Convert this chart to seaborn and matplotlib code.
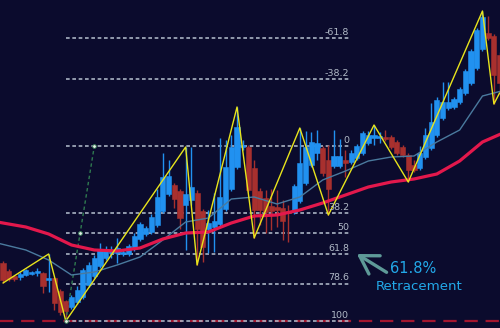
import numpy as np
import pandas as pd
import matplotlib
matplotlib.use("Agg")
import matplotlib.pyplot as plt
import seaborn as sns

# ---------------- data ----------------
opens = [1.1058, 1.1050, 1.1045, 1.1044, 1.1046, 1.1047, 1.1048, 1.1048, 1.1041, 1.1043,
         1.1030, 1.1020, 1.1014, 1.1019, 1.1024, 1.1036, 1.1045, 1.1055, 1.1063, 1.1068,
         1.1068, 1.1067, 1.1067, 1.1072, 1.1082, 1.1087, 1.1089, 1.1096, 1.1110, 1.1127,
         1.1136, 1.1130, 1.1116, 1.1121, 1.1128, 1.1110, 1.1092, 1.1094, 1.1097, 1.1112,
         1.1132, 1.1154, 1.1174, 1.1174, 1.1153, 1.1130, 1.1123, 1.1115, 1.1114, 1.1113,
         1.1109, 1.1109, 1.1120, 1.1138, 1.1156, 1.1168, 1.1173, 1.1161, 1.1155, 1.1155,
         1.1161, 1.1159, 1.1163, 1.1168, 1.1178, 1.1183, 1.1183, 1.1184, 1.1184, 1.1179,
         1.1174, 1.1166, 1.1156, 1.1153, 1.1164, 1.1173, 1.1186, 1.1203, 1.1213, 1.1214,
         1.1219, 1.1228, 1.1238, 1.1253, 1.1272, 1.1288, 1.1285, 1.1266]
closes = [1.1041, 1.1042, 1.1042, 1.1047, 1.1051, 1.1049, 1.1050, 1.1035, 1.1043, 1.1018,
          1.1009, 1.1010, 1.1024, 1.1031, 1.1051, 1.1056, 1.1063, 1.1071, 1.1072, 1.1070,
          1.1073, 1.1069, 1.1075, 1.1085, 1.1097, 1.1093, 1.1104, 1.1124, 1.1144, 1.1145,
          1.1122, 1.1103, 1.1127, 1.1134, 1.1092, 1.1074, 1.1098, 1.1100, 1.1124, 1.1154,
          1.1174, 1.1194, 1.1176, 1.1131, 1.1111, 1.1111, 1.1109, 1.1110, 1.1111, 1.1100,
          1.1108, 1.1135, 1.1158, 1.1174, 1.1179, 1.1178, 1.1148, 1.1132, 1.1165, 1.1165,
          1.1158, 1.1168, 1.1175, 1.1188, 1.1186, 1.1186, 1.1185, 1.1182, 1.1174, 1.1168,
          1.1166, 1.1151, 1.1151, 1.1168, 1.1186, 1.1199, 1.1221, 1.1219, 1.1219, 1.1222,
          1.1232, 1.1250, 1.1270, 1.1291, 1.1304, 1.1283, 1.1246, 1.1238]
highs = [1.1060, 1.1052, 1.1046, 1.1049, 1.1052, 1.1050, 1.1053, 1.1049, 1.1067, 1.1044,
         1.1032, 1.1021, 1.1026, 1.1035, 1.1053, 1.1059, 1.1066, 1.1078, 1.1075, 1.1075,
         1.1083, 1.1072, 1.1077, 1.1088, 1.1099, 1.1095, 1.1107, 1.1132, 1.1168, 1.1161,
         1.1138, 1.1132, 1.1174, 1.1174, 1.1131, 1.1112, 1.1111, 1.1128, 1.1183, 1.1181,
         1.1186, 1.1214, 1.1181, 1.1176, 1.1161, 1.1133, 1.1131, 1.1132, 1.1131, 1.1121,
         1.1116, 1.1137, 1.1193, 1.1190, 1.1189, 1.1191, 1.1175, 1.1176, 1.1191, 1.1182,
         1.1171, 1.1171, 1.1177, 1.1190, 1.1190, 1.1196, 1.1189, 1.1191, 1.1186, 1.1181,
         1.1176, 1.1168, 1.1161, 1.1175, 1.1193, 1.1218, 1.1224, 1.1239, 1.1239, 1.1224,
         1.1234, 1.1252, 1.1272, 1.1293, 1.1310, 1.1305, 1.1287, 1.1269]
lows = [1.1038, 1.1040, 1.1040, 1.1041, 1.1045, 1.1046, 1.1045, 1.1028, 1.1029, 1.1011,
        1.1006, 1.1000, 1.1012, 1.1017, 1.1022, 1.1034, 1.1043, 1.1053, 1.1061, 1.1063,
        1.1058, 1.1065, 1.1065, 1.1070, 1.1080, 1.1085, 1.1087, 1.1094, 1.1108, 1.1125,
        1.1113, 1.1092, 1.1071, 1.1116, 1.1056, 1.1059, 1.1068, 1.1069, 1.1095, 1.1110,
        1.1130, 1.1152, 1.1171, 1.1129, 1.1083, 1.1096, 1.1088, 1.1091, 1.1094, 1.1081,
        1.1079, 1.1107, 1.1118, 1.1136, 1.1154, 1.1161, 1.1145, 1.1106, 1.1153, 1.1153,
        1.1144, 1.1157, 1.1161, 1.1166, 1.1176, 1.1176, 1.1178, 1.1180, 1.1172, 1.1166,
        1.1164, 1.1139, 1.1149, 1.1151, 1.1162, 1.1171, 1.1184, 1.1201, 1.1211, 1.1212,
        1.1217, 1.1226, 1.1236, 1.1251, 1.1270, 1.1281, 1.1217, 1.1226]

ma_idx = [-1, 4, 8, 12, 16, 20, 24, 28, 32, 36, 40, 44, 48, 52, 56, 60, 64, 68, 72, 76, 80, 84, 88]
ma_slow = [1.1099, 1.1094, 1.1087, 1.1076, 1.1071, 1.1070, 1.1073, 1.1082, 1.1088, 1.1089,
           1.1098, 1.1105, 1.1106, 1.1111, 1.1118, 1.1126, 1.1134, 1.1139, 1.1142, 1.1147,
           1.1160, 1.1179, 1.1189]
ma_fast = [1.1078, 1.1071, 1.1061, 1.1046, 1.1049, 1.1056, 1.1064, 1.1081, 1.1099, 1.1103,
           1.1122, 1.1124, 1.1117, 1.1124, 1.1141, 1.1150, 1.1160, 1.1164, 1.1165, 1.1179,
           1.1191, 1.1225, 1.1231]

zz_idx = [0, 8, 11, 32, 34, 41, 44, 52, 57, 65, 71, 84, 86, 87]
zz_val = [1.1038, 1.1067, 1.1000, 1.1174, 1.1056, 1.1214, 1.1083, 1.1193, 1.1106, 1.1196,
          1.1139, 1.1310, 1.1217, 1.1228]

fib_levels = [-61.8, -38.2, 0, 38.2, 50, 61.8, 78.6, 100]
fib_labels = ["-61.8", "-38.2", "0", "38.2", "50", "61.8", "78.6", "100"]
swing_low, swing_high = 1.1000, 1.1175
swing_low_idx, swing_high_idx = 11, 16
fib_end_idx = 60.8

# ---------------- style ----------------
BG = "#0b0b2d"
BLUE = "#2191f0"
RED = "#a8302e"
sns.set_style("dark", {"axes.facecolor": BG, "figure.facecolor": BG})
plt.rcParams['font.family'] = ['DejaVu Sans']

fig = plt.figure(figsize=(5, 3.28), dpi=100)
ax = fig.add_axes([0, 0, 1, 1])
ax.set_facecolor(BG)

n = len(opens)
df = pd.DataFrame({"i": np.arange(n), "o": opens, "c": closes, "h": highs, "l": lows})
up = df["c"] >= df["o"]
colors = np.where(up, BLUE, RED)

# wicks
ax.vlines(df["i"], df["l"], df["h"], colors=colors, lw=1.0, zorder=3)
# bodies
bottom = np.minimum(df["o"], df["c"])
height = np.maximum(np.abs(df["c"] - df["o"]), 0.00015)
ax.bar(df["i"], height, bottom=bottom, width=0.9, color=colors, edgecolor=colors,
       linewidth=0.4, zorder=4)

# moving averages
ma = pd.DataFrame({"i": ma_idx, "slow": ma_slow, "fast": ma_fast})
sns.lineplot(data=ma, x="i", y="fast", ax=ax, color="#4a7a9e", lw=1.0, zorder=5)
sns.lineplot(data=ma, x="i", y="slow", ax=ax, color="#e3184c", lw=2.3, zorder=5)

# zigzag
zz = pd.DataFrame({"i": zz_idx, "v": zz_val})
sns.lineplot(data=zz, x="i", y="v", ax=ax, color="#e8e41c", lw=1.0, sort=False, zorder=6)

# swing-low red dashed line across
ax.axhline(swing_low, color="#a3172f", lw=1.6, ls=(0, (6, 3.5)), zorder=2)

# fib levels
rng = swing_high - swing_low
for lev, lab in zip(fib_levels, fib_labels):
    price = swing_high - lev / 100.0 * rng
    ax.plot([swing_low_idx, fib_end_idx], [price, price], color="#a9b3c2",
            lw=1.2, ls=(0, (2.2, 1.6)), zorder=2.5)
    ax.annotate(lab, (fib_end_idx, price), xytext=(-0.5, 0.8), textcoords="offset points",
                ha="right", va="bottom", fontsize=6.8, color="#b0b9c6", zorder=7)

# fib tool diagonal
gx = [swing_low_idx, (swing_low_idx + swing_high_idx) / 2, swing_high_idx]
gy = [swing_low, (swing_low + swing_high) / 2, swing_high]
ax.plot(gx, gy, color="#2f7a50", lw=1.0, ls=(0, (2.5, 2)), zorder=3.5)
ax.scatter(gx, gy, s=7, color="#e8f0e8", edgecolors="#2f7a50", linewidths=0.6, zorder=8)

# annotation
ax.annotate("", xy=(62.0, 1.1067), xytext=(67.2, 1.10487),
            arrowprops=dict(arrowstyle="->,head_length=0.9,head_width=0.55",
                            color="#5e9a98", lw=2.4, mutation_scale=14, shrinkA=0, shrinkB=0),
            zorder=9)
ax.text(71.8, 1.1052, "61.8%", color="#22a8e8", fontsize=10.5, ha="center", va="center", zorder=9)
ax.text(72.9, 1.1034, "Retracement", color="#22a8e8", fontsize=9.6, ha="center", va="center", zorder=9)

ax.set_xlim(-3 / 5.708, 497 / 5.708)
ax.set_ylim(1.0993, 1.1321)
ax.set_xticks([])
ax.set_yticks([])
ax.set_xlabel("")
ax.set_ylabel("")
for s in ax.spines.values():
    s.set_visible(False)

fig.savefig("out.png", dpi=100, facecolor=BG)
